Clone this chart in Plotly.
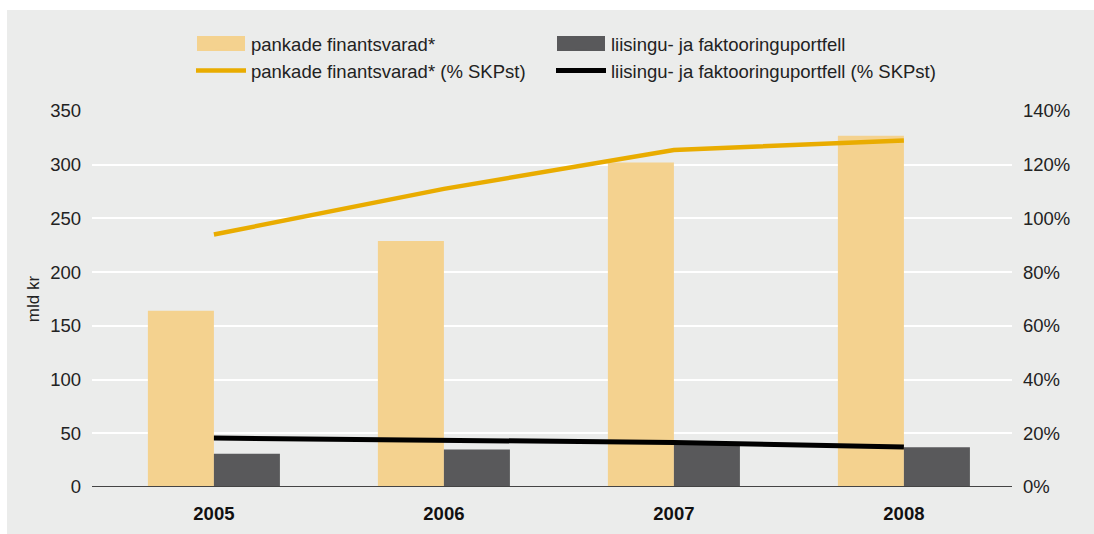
import plotly.graph_objects as go

years = ["2005", "2006", "2007", "2008"]
bank_assets = [164, 229, 302, 327]
leasing = [31, 35, 39, 37]
bank_assets_pct = [94, 111, 125.5, 129]
leasing_pct = [18.2, 17.6, 16.6, 14.9]

FONT = "Liberation Sans, Arial, sans-serif"
BG = "#EBECEB"
FS = 18.5
BAR1 = "#F4D28F"
BAR2 = "#59595B"

fig = go.Figure()
fig.add_trace(go.Bar(x=years, y=bank_assets, name="pankade finantsvarad*", legend="legend",
                     marker=dict(color=BAR1, line=dict(width=0))))
fig.add_trace(go.Bar(x=years, y=leasing, name="liisingu- ja faktooringuportfell", legend="legend2",
                     marker=dict(color=BAR2, line=dict(width=0))))
fig.add_trace(go.Scatter(x=years, y=bank_assets_pct, name="pankade finantsvarad* (% SKPst)",
                         legend="legend",
                         mode="lines", line=dict(color="#E9AC00", width=4.5), yaxis="y2"))
fig.add_trace(go.Scatter(x=years, y=leasing_pct, name="liisingu- ja faktooringuportfell (% SKPst)",
                         legend="legend2",
                         mode="lines", line=dict(color="#000000", width=5), yaxis="y2"))

W, H = 1094, 534
L, R, T, B = 92, 82, 111, 47
pw, ph = W - L - R, H - T - B

def px_x(p):
    return (p - L) / pw

def px_y(p):
    return (H - B - p) / ph

def rect(x0, y0, x1, y1, color, layer="below"):
    return dict(type="rect", xref="paper", yref="paper",
                x0=px_x(x0), x1=px_x(x1), y0=px_y(y1), y1=px_y(y0),
                fillcolor=color, line=dict(width=0), layer=layer)

def legend_at(x_px, y_px):
    return dict(orientation="v", x=px_x(x_px), xanchor="left", y=px_y(y_px), yanchor="top",
                font=dict(family=FONT, size=FS, color="#222222"), tracegroupgap=0,
                bgcolor="rgba(0,0,0,0)", traceorder="normal", itemwidth=50)

fig.update_layout(
    width=W, height=H,
    margin=dict(l=L, r=R, t=T, b=B, autoexpand=False),
    paper_bgcolor=BG, plot_bgcolor=BG,
    font=dict(family=FONT, size=FS, color="#222222"),
    barmode="group", bargap=0.426, bargroupgap=0,
    showlegend=True,
    legend=legend_at(191, 25),
    legend2=legend_at(551, 25),
    xaxis=dict(type="category", range=[-0.53, 3.47], showgrid=False, automargin=False,
               tickfont=dict(family=FONT, size=FS, color="#111111", weight="bold"),
               ticks="", ticklabelstandoff=13, showline=False, zeroline=False),
    yaxis=dict(range=[0, 350], dtick=50, showgrid=True, gridcolor="#FFFFFF", gridwidth=1.5,
               zeroline=False, showline=False, ticks="", ticklabelstandoff=10, automargin=False,
               tickfont=dict(family=FONT, size=FS, color="#222222"),
               title=dict(text="mld kr", font=dict(family=FONT, size=17, color="#222222"), standoff=6)),
    yaxis2=dict(range=[0, 140], dtick=20, ticksuffix="%", overlaying="y", side="right",
                showgrid=False, zeroline=False, showline=False, ticks="", ticklabelstandoff=10,
                automargin=False,
                tickfont=dict(family=FONT, size=FS, color="#222222")),
    shapes=[
        dict(type="line", xref="paper", yref="y", x0=0, x1=1, y0=0, y1=0,
             line=dict(color="#444444", width=2), layer="above"),
        rect(0, 0, W, 10, "#FFFFFF"),
        rect(0, 0, 7, H, "#FFFFFF"),
        rect(197, 36, 245, 51, BAR1, "above"),
        rect(557, 36, 605, 51, BAR2, "above"),
    ],
)

fig.write_html("out.html")
